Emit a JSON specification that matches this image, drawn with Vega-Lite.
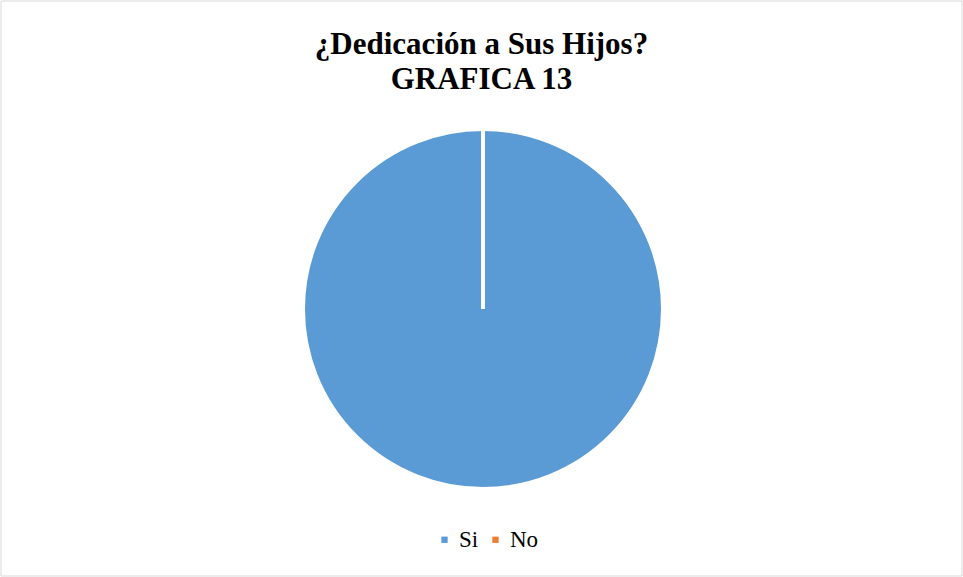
{
  "$schema": "https://vega.github.io/schema/vega-lite/v6.json",
  "width": 961,
  "height": 575,
  "autosize": "none",
  "padding": {"left": 1, "top": 1, "right": 1, "bottom": 1},
  "background": "white",
  "title": {
    "text": ["¿Dedicación a Sus Hijos?", "GRAFICA 13"],
    "font": "Liberation Serif",
    "fontSize": 31,
    "fontWeight": "bold",
    "color": "#000000",
    "anchor": "middle",
    "lineHeight": 35,
    "offset": -95
  },
  "data": {
    "values": [
      {"respuesta": "Si", "valor": 100},
      {"respuesta": "No", "valor": 0}
    ]
  },
  "layer": [
    {
      "data": {"values": [{"marco": 1}]},
      "mark": {"type": "rect", "fill": null, "stroke": "#D9D9D9", "strokeWidth": 1},
      "encoding": {}
    },
    {
      "mark": {
        "type": "arc",
        "outerRadius": 180,
        "stroke": "white",
        "strokeWidth": 4,
        "xOffset": 1.5,
        "yOffset": 20.5
      },
      "encoding": {
        "theta": {"field": "valor", "type": "quantitative", "stack": true},
        "color": {
          "field": "respuesta",
          "type": "nominal",
          "scale": {"domain": ["Si", "No"], "range": ["#5B9BD5", "#ED7D31"]},
          "legend": {
            "title": null,
            "orient": "none",
            "direction": "horizontal",
            "legendX": 432,
            "legendY": 527,
            "symbolType": "square",
            "symbolSize": 40,
            "symbolStrokeWidth": 0,
            "labelFont": "Liberation Serif",
            "labelFontSize": 23,
            "labelColor": "#000000",
            "columnPadding": 5,
            "labelOffset": 3
          }
        }
      }
    }
  ],
  "config": {
    "view": {"stroke": "#D9D9D9", "strokeWidth": 1}
  }
}
